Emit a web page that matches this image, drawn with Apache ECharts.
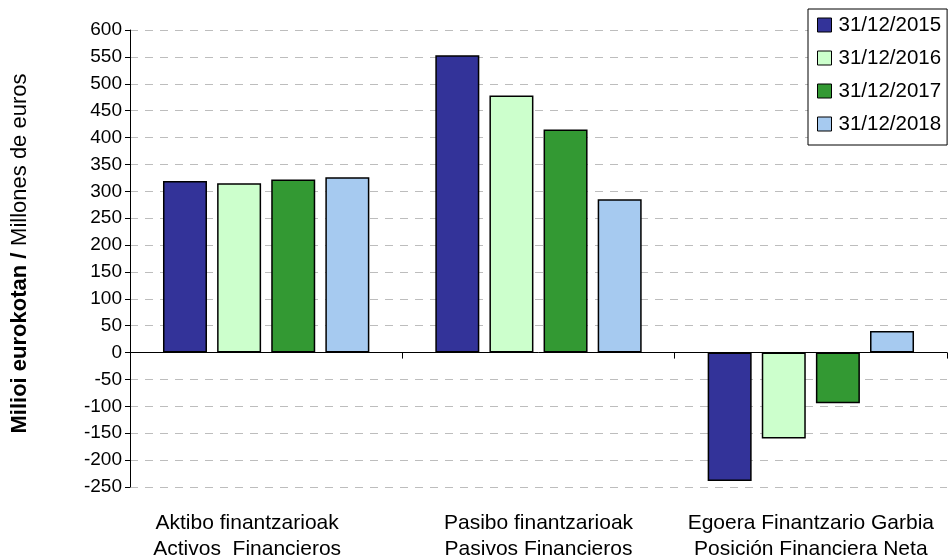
<!DOCTYPE html>
<html><head><meta charset="utf-8">
<script src="https://cdn.jsdelivr.net/npm/echarts@6/dist/echarts.min.js"></script>
<style>html,body{margin:0;padding:0;background:#fff}#c{width:950px;height:558px}</style>
</head><body><div id="c"></div>
<script>
var categories = ['Aktibo finantzarioak\nActivos  Financieros', 'Pasibo finantzarioak\nPasivos Financieros', 'Egoera Finantzario Garbia\nPosición Financiera Neta'];
var seriesNames = ['31/12/2015', '31/12/2016', '31/12/2017', '31/12/2018'];
var v2015 = [319, 553, -239];
var v2016 = [315, 478, -160];
var v2017 = [322, 415, -94];
var v2018 = [326, 285, 40];
var yMin = -250, yMax = 600, yStep = 50;
var colors = ['#333399', '#CCFFCC', '#339933', '#A6CAF0'];
var values = [v2015, v2016, v2017, v2018];
var font = 'Liberation Sans, Arial, sans-serif';

var chart = echarts.init(document.getElementById('c'), null, {renderer: 'canvas'});
var series = values.map(function (d, i) {
  return {
    name: seriesNames[i], type: 'bar', data: d, barWidth: 44, barGap: '23%',
    xAxisIndex: 0,
    itemStyle: {color: colors[i], borderColor: '#000', borderWidth: 1.5},
    emphasis: {disabled: true}
  };
});
var labelData = categories.map(function (c, i) {
  return i === 0 ? {value: c, textStyle: {padding: [0, 38, 0, 0]}} : c;
});
chart.setOption({
  animation: false,
  grid: {left: 130, right: 3, top: 30, bottom: 71, containLabel: false, outerBoundsMode: 'none'},
  legend: {
    orient: 'vertical', left: 808, top: 9, data: seriesNames,
    backgroundColor: '#fff', borderColor: '#000', borderWidth: 1,
    padding: [5, 6, 10, 9], itemWidth: 14, itemHeight: 14, itemGap: 11,
    icon: 'rect',
    itemStyle: {borderColor: '#000', borderWidth: 1},
    textStyle: {fontFamily: font, fontSize: 20.5, color: '#000', lineHeight: 22, padding: [0, 0, 0, 2]}
  },
  xAxis: [{
    type: 'category', data: labelData, position: 'bottom',
    axisLine: {show: false, onZero: false}, axisTick: {show: false},
    axisLabel: {fontFamily: font, fontSize: 21, color: '#000', lineHeight: 26, margin: 23, interval: 0},
    splitLine: {show: false}
  }, {
    type: 'category', data: categories, position: 'bottom',
    axisLine: {show: true, onZero: true, lineStyle: {color: '#000', width: 1}},
    axisTick: {show: true, length: 6, lineStyle: {color: '#000'}},
    axisLabel: {show: false}, splitLine: {show: false}
  }],
  yAxis: {
    type: 'value', min: yMin, max: yMax, interval: yStep,
    axisLine: {show: true, lineStyle: {color: '#000', width: 1}},
    axisTick: {show: true, length: 5, lineStyle: {color: '#000'}},
    axisLabel: {fontFamily: font, fontSize: 19, color: '#000', margin: 8},
    splitLine: {show: true, lineStyle: {color: '#BDBDBD', type: [8, 7], width: 1}},
    name: '{b|Milioi eurokotan /}  {n|Millones de euros}',
    nameLocation: 'middle', nameGap: 99, nameRotate: 90,
    nameTextStyle: {
      padding: [0, 0, 0, 10],
      rich: {
        b: {fontFamily: font, fontSize: 22, fontWeight: 'bold', color: '#000'},
        n: {fontFamily: font, fontSize: 22, color: '#000'}
      }
    }
  },
  series: series.concat([{type: 'bar', xAxisIndex: 1, data: [], silent: true}])
});
</script></body></html>
